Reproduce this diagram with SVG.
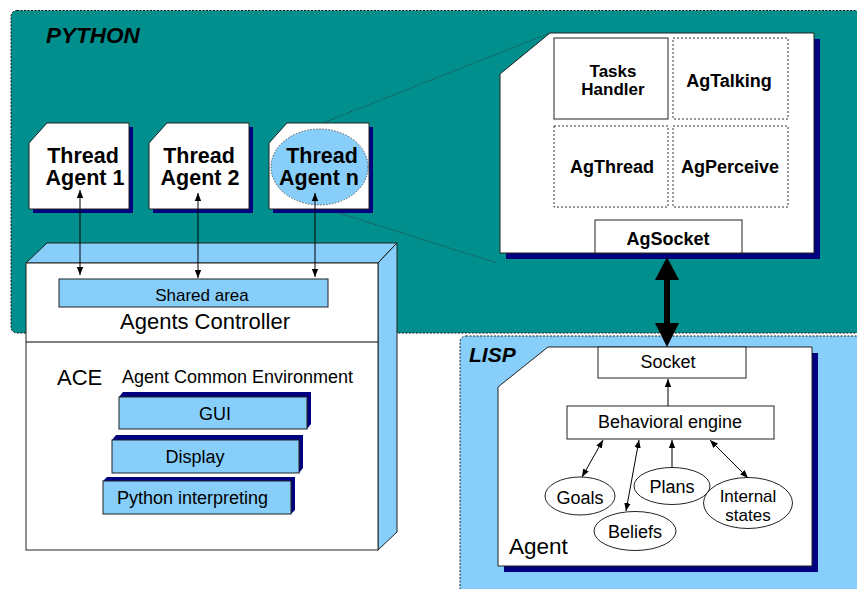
<svg xmlns="http://www.w3.org/2000/svg" width="857" height="589" viewBox="0 0 857 589">
  <style>
    .t { font-family: "Liberation Sans", Arial, sans-serif; fill: #000; }
    .b { font-weight: bold; }
    .bi { font-weight: bold; font-style: italic; }
    .box { fill: #fff; stroke: #222; stroke-width: 1; }
    .dash { fill: #fff; stroke: #333; stroke-width: 1; stroke-dasharray: 2 2; }
    .sh { fill: #000080; }
    .lb { fill: #87CEFA; stroke: #222; stroke-width: 1; }
    .ln { stroke: #000; stroke-width: 1; fill: none; }
    .dot { stroke: #333; stroke-width: 0.8; stroke-dasharray: 1.5 1.5; fill: none; }
  </style>
  <defs>
    <marker id="ah" viewBox="0 0 10 10" refX="10" refY="5" markerWidth="8" markerHeight="8" markerUnits="userSpaceOnUse" orient="auto-start-reverse">
      <path d="M0,1 L10,5 L0,9 Z" fill="#000"/>
    </marker>
    <!-- thread card outline, clipped top-left corner -->
    <path id="card" d="M18,0 H100 V86 H0 V20 Z"/>
  </defs>

  <rect width="857" height="589" fill="#fff"/>

  <!-- Python area -->
  <g id="python-area">
    <rect x="11" y="10.5" width="860" height="322.5" rx="6" fill="#008F8C" stroke="#111" stroke-width="1" stroke-dasharray="2 1.5"/>
    <text class="t bi" x="46" y="43" font-size="22.5">PYTHON</text>
  </g>

  <!-- LISP area -->
  <g id="lisp-area">
    <rect x="460" y="336" width="410" height="270" rx="6" fill="#87CEFA" stroke="#222" stroke-width="1" stroke-dasharray="2 1.5"/>
    <text class="t bi" x="469" y="362" font-size="21">LISP</text>
  </g>

  <!-- zoom guide lines from Thread Agent n to its detail -->
  <g id="guides">
    <line class="dot" x1="320" y1="124" x2="550" y2="33"/>
    <line class="dot" x1="320" y1="207" x2="497" y2="263"/>
  </g>

  <!-- Thread agents -->
  <g id="thread-agent-1">
    <use href="#card" class="sh" x="33" y="127"/>
    <use href="#card" class="box" x="29" y="123"/>
    <text class="t b" font-size="21.5" text-anchor="middle"><tspan x="83" y="163">Thread</tspan><tspan x="85" y="185">Agent 1</tspan></text>
  </g>
  <g id="thread-agent-2">
    <use href="#card" class="sh" x="153" y="127"/>
    <use href="#card" class="box" x="149" y="123"/>
    <text class="t b" font-size="21.5" text-anchor="middle"><tspan x="199" y="163">Thread</tspan><tspan x="200" y="185">Agent 2</tspan></text>
  </g>
  <g id="thread-agent-n">
    <use href="#card" class="sh" x="273" y="127"/>
    <use href="#card" class="box" x="269" y="123"/>
    <ellipse cx="319.5" cy="167" rx="48.5" ry="38" fill="#87CEFA" stroke="#333" stroke-width="0.8" stroke-dasharray="1.5 1.5"/>
    <text class="t b" font-size="21.5" text-anchor="middle"><tspan x="322" y="163">Thread</tspan><tspan x="319" y="185">Agent n</tspan></text>
  </g>

  <!-- Agents controller / ACE block -->
  <g id="agents-controller">
    <path class="lb" d="M26,263 L47,243 H397 L378,263 Z"/>
    <path class="lb" d="M378,263 L397,243 V532 L378,550 Z"/>
    <rect class="box" x="26" y="263" width="352" height="287"/>
    <line class="ln" x1="26" y1="342" x2="378" y2="342"/>
    <rect class="lb" x="59" y="279" width="269" height="28"/>
    <text class="t" x="202" y="301" font-size="17" text-anchor="middle">Shared area</text>
    <text class="t" x="205" y="329" font-size="22" text-anchor="middle">Agents Controller</text>
    <text class="t" x="57" y="385" font-size="22">ACE</text>
    <text class="t" x="122" y="383" font-size="18">Agent Common Environment</text>
  </g>

  <g id="gui">
    <path class="sh" d="M119,397 L123,392 H311 V424 L307,429 Z"/>
    <rect class="lb" x="119" y="397" width="188" height="32"/>
    <text class="t" x="215" y="420" font-size="18" text-anchor="middle">GUI</text>
  </g>
  <g id="display">
    <path class="sh" d="M112,440 L116,435 H303 V468 L299,473 Z"/>
    <rect class="lb" x="112" y="440" width="187" height="33"/>
    <text class="t" x="195" y="463" font-size="18" text-anchor="middle">Display</text>
  </g>
  <g id="python-interpreting">
    <path class="sh" d="M103,481 L107,477 H295 V510 L291,514 Z"/>
    <rect class="lb" x="103" y="481" width="188" height="33"/>
    <text class="t" x="117" y="504" font-size="18">Python interpreting</text>
  </g>

  <!-- Python agent detail -->
  <g id="python-agent">
    <path class="sh" d="M556,39 H820 V259 H506 V80 Z"/>
    <path class="box" d="M550,33 H814 V253 H500 V74 Z"/>
  </g>
  <g id="tasks-handler">
    <rect class="box" x="554" y="38" width="114" height="81"/>
    <text class="t b" font-size="17" text-anchor="middle"><tspan x="613" y="77">Tasks</tspan><tspan x="613" y="95">Handler</tspan></text>
  </g>
  <g id="agtalking">
    <rect class="dash" x="673" y="38" width="115" height="81"/>
    <text class="t b" x="729" y="87" font-size="18" text-anchor="middle">AgTalking</text>
  </g>
  <g id="agthread">
    <rect class="dash" x="554" y="126" width="114" height="81"/>
    <text class="t b" x="612" y="173" font-size="18" text-anchor="middle">AgThread</text>
  </g>
  <g id="agperceive">
    <rect class="dash" x="673" y="126" width="115" height="81"/>
    <text class="t b" x="730" y="173" font-size="18" text-anchor="middle">AgPerceive</text>
  </g>
  <g id="agsocket">
    <rect class="box" x="595" y="220" width="147" height="33"/>
    <text class="t b" x="668" y="245" font-size="18" text-anchor="middle">AgSocket</text>
  </g>

  <!-- LISP agent -->
  <g id="lisp-agent">
    <path class="sh" d="M554,353 H818 V572 H504 V393 Z"/>
    <path class="box" d="M548,347 H812 V566 H498 V387 Z"/>
    <text class="t" x="509" y="554" font-size="22.5">Agent</text>
  </g>
  <g id="socket">
    <rect class="box" x="598" y="347" width="148" height="31"/>
    <text class="t" x="668" y="368" font-size="18" text-anchor="middle">Socket</text>
  </g>
  <g id="behavioral-engine">
    <rect class="box" x="567" y="406" width="207" height="33"/>
    <text class="t" x="670" y="428" font-size="18" text-anchor="middle">Behavioral engine</text>
  </g>
  <g id="goals">
    <ellipse class="box" cx="580" cy="496" rx="35" ry="19"/>
    <text class="t" x="580" y="504" font-size="18" text-anchor="middle">Goals</text>
  </g>
  <g id="beliefs">
    <ellipse class="box" cx="635" cy="531" rx="41" ry="19.5"/>
    <text class="t" x="635" y="538" font-size="18" text-anchor="middle">Beliefs</text>
  </g>
  <g id="plans">
    <ellipse class="box" cx="672" cy="486" rx="38" ry="18.5"/>
    <text class="t" x="672" y="493" font-size="18" text-anchor="middle">Plans</text>
  </g>
  <g id="internal-states">
    <ellipse class="box" cx="748" cy="503" rx="44.5" ry="25.5"/>
    <text class="t" font-size="17" text-anchor="middle"><tspan x="748" y="502">Internal</tspan><tspan x="748" y="521">states</tspan></text>
  </g>

  <!-- connectors -->
  <g id="connectors">
    <line class="ln" x1="80" y1="190" x2="80" y2="275" marker-start="url(#ah)" marker-end="url(#ah)"/>
    <line class="ln" x1="198" y1="193" x2="198" y2="278" marker-start="url(#ah)" marker-end="url(#ah)"/>
    <line class="ln" x1="315" y1="193" x2="315" y2="277" marker-start="url(#ah)" marker-end="url(#ah)"/>
    <!-- thick two-way link between AgSocket and Socket -->
    <g id="socket-link" fill="#000">
      <rect x="664" y="276" width="6" height="52"/>
      <path d="M667,257 L679,280 H655 Z"/>
      <path d="M667,347 L679,323 H655 Z"/>
    </g>
    <line class="ln" x1="668" y1="406" x2="668" y2="379" marker-end="url(#ah)"/>
    <line class="ln" x1="603" y1="440" x2="582" y2="477" marker-start="url(#ah)" marker-end="url(#ah)"/>
    <line class="ln" x1="639" y1="440" x2="626" y2="511" marker-start="url(#ah)" marker-end="url(#ah)"/>
    <line class="ln" x1="672" y1="467" x2="672" y2="440" marker-end="url(#ah)"/>
    <line class="ln" x1="710" y1="440" x2="748" y2="478" marker-start="url(#ah)" marker-end="url(#ah)"/>
  </g>
</svg>
